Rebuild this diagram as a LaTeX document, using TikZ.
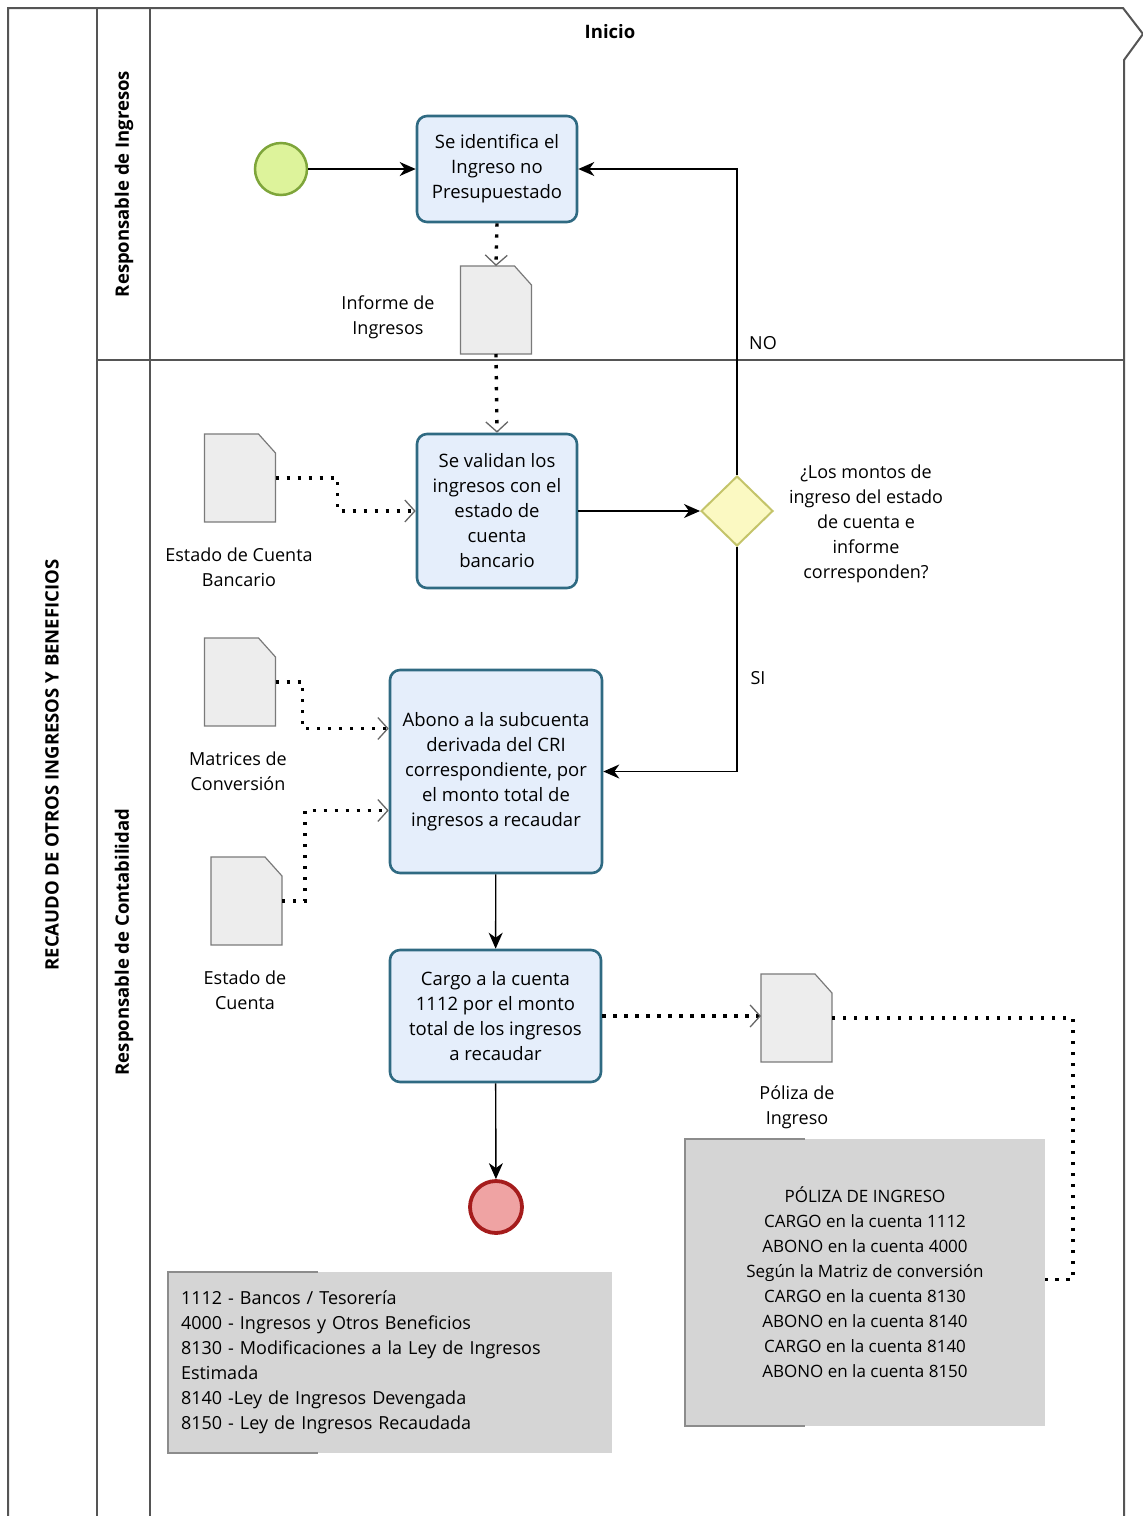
\documentclass[tikz,border=0pt]{standalone}
\usepackage{fontspec}
\setmainfont{Open Sans}
\usetikzlibrary{arrows.meta,shapes.geometric}
\definecolor{taskfill}{HTML}{E5EEFB}
\definecolor{taskline}{HTML}{2F6A82}
\definecolor{startfill}{HTML}{DDF39B}
\definecolor{startline}{HTML}{7EA53A}
\definecolor{endfill}{HTML}{EFA3A3}
\definecolor{endline}{HTML}{A51C1C}
\definecolor{gwfill}{HTML}{FBF9C2}
\definecolor{gwline}{HTML}{C4C46A}
\definecolor{docfill}{HTML}{EDEDED}
\definecolor{docline}{HTML}{7A7A7A}
\definecolor{notefill}{HTML}{D5D5D5}
\definecolor{laneline}{HTML}{555555}
\newcommand\docdraw[1]{%
  \draw[docborder] (#1.south west) -- (#1.north west) -- ([xshift=-17pt]#1.north east)
    -- ([yshift=-19pt]#1.north east) -- (#1.south east) -- cycle;}
\begin{document}
\begin{tikzpicture}[x=1pt,y=-1pt,
  lane/.style={draw=laneline,line width=1.3pt},
  txt/.style={font=\fontsize{18}{25}\selectfont,align=center,inner sep=0pt},
  task/.style={txt,font=\fontsize{18.5}{25}\selectfont,draw=taskline,fill=taskfill,line width=2.6pt,rounded corners=10pt},
  docnode/.style={minimum width=71pt,minimum height=88pt,inner sep=0pt,outer sep=0pt},
  docborder/.style={draw=docline,fill=docfill,line width=1.2pt},
  flow/.style={draw=black,line width=1.4pt,-{Stealth[length=16pt,width=14pt,inset=5pt]}},
  assoc/.style={draw=black,line width=3.4pt,dash pattern=on 3.4pt off 7.6pt,
    -{Straight Barb[length=10pt,width=22pt,line width=1.3pt,color=black!60]}},
  assocline/.style={draw=black,line width=3.4pt,dash pattern=on 3.4pt off 7.6pt},
  note/.style={txt,fill=notefill,draw=none},
  bracket/.style={draw=black!45,line width=1.5pt},
  lanetitle/.style={font=\bfseries\fontsize{18.5}{20}\selectfont,rotate=90,inner sep=0pt}
]
\useasboundingbox (0,0) rectangle (1143,1516);
% pool and lanes
\draw[lane,line width=2pt] (8,1516) -- (8,8) -- (1123,8) -- (1143,34) -- (1124,60) -- (1124,1516);
\draw[lane] (97,8) -- (97,1516);
\draw[lane] (150,8) -- (150,1516);
\draw[lane] (97,360) -- (1124,360);
\node[lanetitle] (pool) at (52,765) {RECAUDO DE OTROS INGRESOS Y BENEFICIOS};
\node[lanetitle] (lane1) at (124,184) {Responsable de Ingresos};
\node[lanetitle] (lane2) at (124,942) {Responsable de Contabilidad};
\node[font=\bfseries\fontsize{18.5}{20}\selectfont] (inicio) at (610,32) {Inicio};

% events
\node[circle,draw=startline,fill=startfill,line width=2.5pt,minimum size=52pt,inner sep=0pt] (start) at (281,169) {};
\node[circle,draw=endline,fill=endfill,line width=3.8pt,minimum size=52pt,inner sep=0pt] (end) at (496,1207) {};

% tasks
\node[task,minimum width=160pt,minimum height=106pt] (t1) at (497,169) {Se identifica el\\Ingreso no\\Presupuestado};
\node[task,minimum width=160pt,minimum height=154pt] (t2) at (497,511) {Se validan los\\ingresos con el\\estado de\\cuenta\\bancario};
\node[task,minimum width=212pt,minimum height=203pt] (t3) at (496,771.5) {Abono a la subcuenta\\derivada del CRI\\correspondiente, por\\el monto total de\\ingresos a recaudar};
\node[task,minimum width=211pt,minimum height=132pt] (t4) at (495.5,1016) {Cargo a la cuenta\\1112 por el monto\\total de los ingresos\\a recaudar};

% gateway
\node[diamond,draw=gwline,fill=gwfill,line width=2pt,minimum width=72pt,minimum height=70pt,inner sep=0pt] (gw) at (737,511) {};
\node[txt] (gwlabel) at (866,524) {¿Los montos de\\ingreso del estado\\de cuenta e\\informe\\corresponden?};

% documents
\node[docnode] (inf) at (496,310) {};
\node[docnode] (ecb) at (240,478) {};
\node[docnode] (mat) at (240,682) {};
\node[docnode] (edc) at (246.5,901) {};
\node[docnode] (pol) at (796.5,1018) {};
\docdraw{inf}
\docdraw{ecb}
\docdraw{mat}
\docdraw{edc}
\docdraw{pol}
\node[txt] (inflabel) at (388,317) {Informe de\\Ingresos};
\node[txt] (ecblabel) at (239,567) {Estado de Cuenta\\Bancario};
\node[txt] (matlabel) at (238,771) {Matrices de\\Conversión};
\node[txt] (edclabel) at (245,990) {Estado de\\Cuenta};
\node[txt] (pollabel) at (797,1107) {Póliza de\\Ingreso};

% notes
\node[note,font=\fontsize{17}{25}\selectfont,minimum width=360pt,minimum height=287pt] (n1) at (865,1282.5)
  {PÓLIZA DE INGRESO\\CARGO en la cuenta 1112\\ABONO en la cuenta 4000\\Según la Matriz de conversión\\CARGO en la cuenta 8130\\ABONO en la cuenta 8140\\CARGO en la cuenta 8140\\ABONO en la cuenta 8150};
\node[note,align=left,text width=418pt,inner xsep=13pt,minimum height=181pt] (n2) at (390,1362.5)
  {1112 - Bancos / Tesorería\\4000 - Ingresos y Otros Beneficios\\8130 - Modificaciones a la Ley de Ingresos\\Estimada\\8140 -Ley de Ingresos Devengada\\8150 - Ley de Ingresos Recaudada};
\draw[bracket] ([xshift=120pt]n1.north west) -- (n1.north west) -- (n1.south west) -- ([xshift=120pt]n1.south west);
\draw[bracket] ([xshift=150pt]n2.north west) -- (n2.north west) -- (n2.south west) -- ([xshift=150pt]n2.south west);

% sequence flows
\draw[flow] (start) -- (t1);
\draw[flow] (t2) -- (gw);
\draw[flow] (gw.north) |- (t1.east);
\draw[flow] (gw.south) |- (t3.east);
\draw[flow] (t3) -- (t4);
\draw[flow] (t4) -- (end);
\node[txt] (nolabel) at (763,343) {NO};
\node[txt] (silabel) at (758,678) {SI};

% associations
\draw[assoc] (t1.south) -- (inf.north);
\draw[assoc] (inf.south) -- (t2.north);
\draw[assoc] (ecb.east) -- ++(62,0) |- (t2.west);
\draw[assoc] (mat.east) -- ++(27,0) |- ([yshift=43pt]t3.west);
\draw[assoc] (edc.east) -- ++(23,0) |- ([yshift=-39pt]t3.west);
\draw[assoc] (t4.east) -- (t4.east -| pol.west);
\draw[assocline] (pol.east) -- ++(241,0) |- ([yshift=3pt]n1.east);
\end{tikzpicture}
\end{document}
